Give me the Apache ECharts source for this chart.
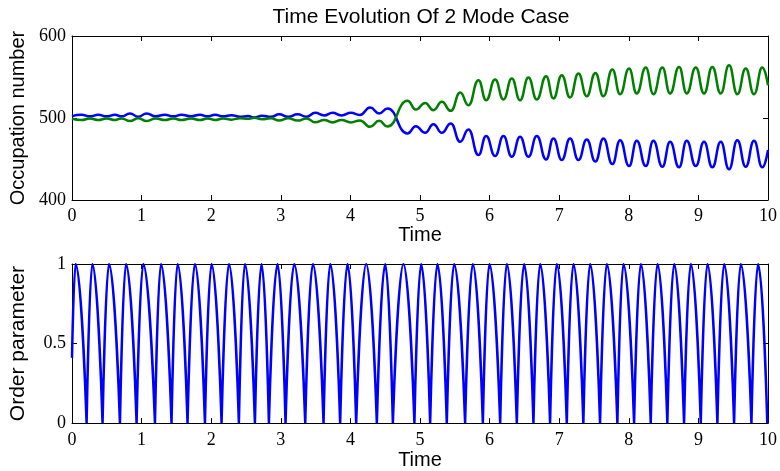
<!DOCTYPE html>
<html><head><meta charset="utf-8">
<script src="https://cdn.jsdelivr.net/npm/echarts@6/dist/echarts.min.js"></script>
<style>html,body{margin:0;padding:0;background:#fff}#c{width:780px;height:471px}</style>
</head><body><div id="c"></div>
<script>
// ---- Top panel: extrema of the two occupation numbers (time, value) ----
const occTimes = [0, 0.138, 0.258, 0.378, 0.497, 0.617, 0.713, 0.833, 0.952, 1.072,
  1.201, 1.335, 1.455, 1.574, 1.709, 1.838, 1.948, 2.054, 2.173, 2.292,
  2.413, 2.53, 2.62, 2.73, 2.858, 2.977, 3.106, 3.240, 3.370, 3.494,
  3.624, 3.743, 3.872, 4.007, 4.136, 4.284, 4.413, 4.533, 4.820, 4.940,
  5.074, 5.193, 5.314, 5.443, 5.577, 5.696, 5.840, 5.950, 6.079, 6.199,
  6.319, 6.438, 6.558, 6.678, 6.812, 6.917, 7.037, 7.156, 7.276, 7.396,
  7.520, 7.635, 7.764, 7.875, 8.004, 8.114, 8.244, 8.353, 8.482, 8.593,
  8.722, 8.832, 8.962, 9.081, 9.200, 9.321, 9.440, 9.559, 9.680, 9.799,
  9.918, 10];
const blueMode = [502.3, 504, 502, 504, 502, 504, 502, 505.5, 501.5, 505.5,
  502, 504, 502, 504, 502, 504, 502, 504, 502, 503.5,
  501.5, 502.3, 500.6, 502.8, 501.4, 504.5, 501.4, 504.5, 501.6, 506.3,
  503.1, 506.3, 503.1, 506.3, 503.8, 512.8, 505.5, 511.6, 481.2, 490,
  482, 492.5, 482, 493.3, 471, 486, 454.8, 478, 453.6, 477.9,
  452.7, 477.1, 452.7, 477.9, 449.5, 475.1, 448.7, 475.1, 448.7, 473.9,
  447, 475.1, 443.8, 473, 441.4, 472.2, 441.4, 472.2, 440.5, 471,
  439.8, 472.2, 441.4, 471, 439.8, 471, 437.4, 473, 440.5, 472.2,
  439.8, 460.9];
const greenMode = [499, 497.5, 499.5, 497.5, 499.5, 497.5, 499.5, 496.3, 499.8, 496.3,
  499.5, 497.5, 499.5, 497.5, 499.5, 497.5, 499.5, 497.5, 499.5, 498,
  499.8, 499, 500.2, 498.6, 499.8, 496.8, 499.6, 496.8, 499.4, 494.8,
  497.6, 494.6, 497.6, 494.6, 497, 489.2, 496.5, 489.6, 520.9, 510.4,
  518.4, 509.6, 519.7, 508.7, 531.1, 515.6, 546.1, 521.7, 546.9, 522.6,
  548.1, 521.7, 549.4, 522.6, 550.9, 523.8, 552.2, 525, 554.2, 526.6,
  555, 526.6, 559.1, 529, 560.3, 529.9, 561.5, 529, 561.5, 529.9,
  562.3, 529.9, 561.5, 529.9, 562.3, 529.9, 564.3, 529, 560.3, 529,
  561.5, 540];

// ---- Bottom panel: order parameter (arches between zeros) ----
const orderStart = [0, 0.41];
const orderPeakTimes = [0.052, 0.292, 0.531, 0.776, 1.024, 1.278, 1.517, 1.766, 2.005, 2.255,
  2.484, 2.723, 2.953, 3.193, 3.461, 3.710, 3.958, 4.227, 4.500, 4.762,
  5.016, 5.250, 5.490, 5.759, 5.997, 6.247, 6.496, 6.726, 6.965, 7.204,
  7.444, 7.684, 7.923, 8.173, 8.412, 8.652, 8.891, 9.130, 9.370, 9.609, 9.857];
const orderPeakValues = [1,1,1,1,1,1,1,1,1,1, 1,1,1,1,1,1,1,1,1,1, 1,1,1,1,1,1,1,1,1,1, 1,1,1,1,1,1,1,1,1,1,1];
const orderZeroTimes = [0.210, 0.439, 0.689, 0.928, 1.192, 1.430, 1.660, 1.910, 2.149, 2.398,
  2.628, 2.829, 3.068, 3.351, 3.614, 3.853, 4.083, 4.380, 4.610, 4.920,
  5.146, 5.385, 5.648, 5.903, 6.152, 6.391, 6.630, 6.869, 7.109, 7.347,
  7.587, 7.836, 8.076, 8.315, 8.554, 8.794, 9.034, 9.273, 9.513, 9.762, 9.990];
const orderZeroValues = [0,0,0,0,0,0,0,0,0,0, 0,0,0,0,0,0,0,0,0,0, 0,0,0,0,0,0,0,0,0,0, 0,0,0,0,0,0,0,0,0,0,0];

// ---- Axis ticks / labels ----
const timeRange = [0, 10], timeStep = 1;
const occRange = [400, 600], occStep = 100;
const orderRange = [0, 1], orderStep = 0.5;
const titleText = 'Time Evolution Of 2 Mode Case';

const blueData = occTimes.map((t, i) => [t, blueMode[i]]);
const greenData = occTimes.map((t, i) => [t, greenMode[i]]);
const orderData = [];
for (let i = 0; i < orderPeakTimes.length; i++) {
  if (i === 0) orderData.push(orderStart.slice());
  else { orderData.push([orderZeroTimes[i - 1], orderZeroValues[i - 1]]); }
  orderData.push([orderPeakTimes[i], orderPeakValues[i]]);
  orderData.push([orderZeroTimes[i], orderZeroValues[i]]);
  orderData.push([orderZeroTimes[i], null]);
}

const serif = '"Liberation Serif", "Times New Roman", serif';
const sans = '"Liberation Sans", Arial, sans-serif';
const lineStyle = { color: '#000', width: 1 };
function xAx(grid, pos, labelled, margin, gap) {
  return {
    type: 'value', gridIndex: grid, position: pos, min: timeRange[0], max: timeRange[1], interval: timeStep,
    axisLine: { show: true, onZero: false, lineStyle },
    axisTick: { show: true, inside: true, length: 5, lineStyle },
    axisLabel: { show: labelled, color: '#000', fontFamily: serif, fontSize: 18, margin: margin || 7 },
    splitLine: { show: false },
    name: labelled ? 'Time' : '', nameLocation: 'middle', nameGap: gap || 25,
    nameTextStyle: { color: '#000', fontFamily: sans, fontSize: 20 }
  };
}
function yAx(grid, pos, labelled, range, step, name, fs) {
  return {
    type: 'value', gridIndex: grid, position: pos, min: range[0], max: range[1], interval: step,
    axisLine: { show: true, onZero: false, lineStyle },
    axisTick: { show: true, inside: true, length: 5, lineStyle },
    axisLabel: { show: labelled, color: '#000', fontFamily: serif, fontSize: 18, margin: 6 },
    splitLine: { show: false },
    name: labelled ? name : '', nameLocation: 'middle', nameGap: 43,
    nameTextStyle: { color: '#000', fontFamily: sans, fontSize: fs || 20 }
  };
}

const chart = echarts.init(document.getElementById('c'), null, { renderer: 'canvas' });
chart.setOption({
  animation: false,
  backgroundColor: '#fff',
  title: {
    text: titleText, left: 421, top: 7, textAlign: 'center', padding: 0,
    textStyle: { color: '#000', fontFamily: sans, fontSize: 21, fontWeight: 'normal' }
  },
  grid: [
    { left: 72, right: 12, top: 36, height: 164 },
    { left: 72, right: 12, top: 264, height: 163 }
  ],
  xAxis: [xAx(0, 'bottom', true, 7, 25), xAx(0, 'top', false), xAx(1, 'bottom', true, 8, 25), xAx(1, 'top', false)],
  yAxis: [
    yAx(0, 'left', true, occRange, occStep, 'Occupation number', 20),
    yAx(0, 'right', false, occRange, occStep, ''),
    yAx(1, 'left', true, orderRange, orderStep, 'Order parameter', 21),
    yAx(1, 'right', false, orderRange, orderStep, '')
  ],
  series: [
    { type: 'line', xAxisIndex: 0, yAxisIndex: 0, data: blueData, showSymbol: false,
      smooth: 0.5, smoothMonotone: 'x', lineStyle: { color: '#0000ff', width: 2.5 } },
    { type: 'line', xAxisIndex: 0, yAxisIndex: 0, data: greenData, showSymbol: false,
      smooth: 0.5, smoothMonotone: 'x', lineStyle: { color: '#008000', width: 2.5 } },
    { type: 'line', xAxisIndex: 2, yAxisIndex: 2, data: orderData, showSymbol: false, connectNulls: false,
      smooth: 0.5, smoothMonotone: 'x', lineStyle: { color: '#0000ff', width: 2.5 } }
  ]
});
</script></body></html>
